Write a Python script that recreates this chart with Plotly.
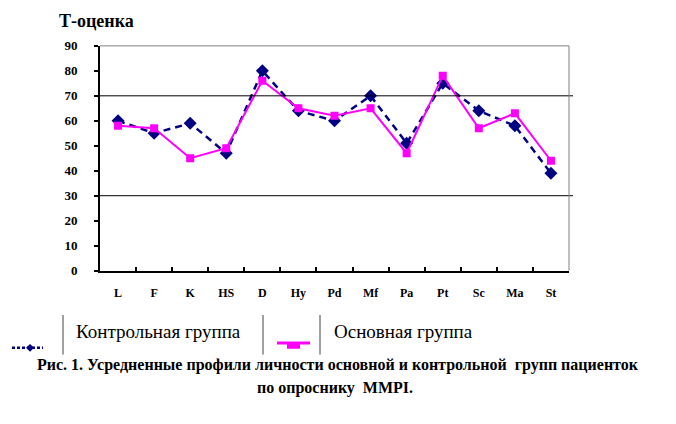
import plotly.graph_objects as go

categories = ["L", "F", "K", "HS", "D", "Hy", "Pd", "Mf", "Pa", "Pt", "Sc", "Ma", "St"]
control_values = [60, 55, 59, 47, 80, 64, 60, 70, 51, 75, 64, 58, 39]
main_values = [58, 57, 45, 49, 76, 65, 62, 65, 47, 78, 57, 63, 44]
y_ticks = [0, 10, 20, 30, 40, 50, 60, 70, 80, 90]
ref_lines = [70, 30]

W, H = 676, 424
OFF = 8  # page body margin offset of the figure in the window
PL, PR, PT, PB = 100, 569, 40, 273  # plot area in window pixels

def px(x):
    return (x - OFF) / W

def py(y):
    return 1 - (y - OFF) / H

SERIF = "Liberation Serif"
NAVY = "#000080"
MAGENTA = "#FF00FF"

fig = go.Figure()
fig.add_trace(go.Scatter(
    x=categories, y=control_values, mode="lines+markers",
    name="Контрольная группа",
    line=dict(color=NAVY, width=2.5, dash="7px,5px"),
    marker=dict(symbol="diamond", size=10, color=NAVY),
))
fig.add_trace(go.Scatter(
    x=categories, y=main_values, mode="lines+markers",
    name="Основная группа",
    line=dict(color=MAGENTA, width=2),
    marker=dict(symbol="square", size=8, color=MAGENTA),
))

shapes = []
for v in ref_lines:
    shapes.append(dict(type="line", xref="paper", yref="y",
                       x0=px(PL - 5), x1=px(PR + 4), y0=v, y1=v,
                       line=dict(color="black", width=1)))
shapes.append(dict(type="line", xref="paper", yref="paper", x0=px(PL), x1=px(PR),
                   y0=py(PT), y1=py(PT), line=dict(color="#808080", width=1)))
shapes.append(dict(type="line", xref="paper", yref="paper", x0=px(PR), x1=px(PR),
                   y0=py(PT), y1=py(PB), line=dict(color="#808080", width=1)))
for xs in (63, 263, 320):
    shapes.append(dict(type="line", xref="paper", yref="paper", x0=px(xs), x1=px(xs),
                       y0=py(319), y1=py(360), line=dict(color="#404040", width=1)))
shapes.append(dict(type="line", xref="paper", yref="paper", x0=px(12), x1=px(43),
                   y0=py(353), y1=py(353), line=dict(color=NAVY, width=2.5, dash="3px,2px")))
cx, cy, r = 30, 353, 4
shapes.append(dict(type="path", xref="paper", yref="paper",
                   path=f"M {px(cx)},{py(cy - r)} L {px(cx + r)},{py(cy)} L {px(cx)},{py(cy + r)} L {px(cx - r)},{py(cy)} Z",
                   fillcolor=NAVY, line=dict(color=NAVY, width=0)))
shapes.append(dict(type="line", xref="paper", yref="paper", x0=px(277), x1=px(310),
                   y0=py(348), y1=py(348), line=dict(color=MAGENTA, width=3)))
shapes.append(dict(type="rect", xref="paper", yref="paper", x0=px(287), x1=px(300),
                   y0=py(354), y1=py(348), fillcolor=MAGENTA, line=dict(width=0)))

annotations = [
    dict(text="<b>Т-оценка</b>", x=px(57), y=py(14), xref="paper", yref="paper",
         xanchor="left", yanchor="middle", showarrow=False,
         font=dict(family=SERIF, size=18)),
    dict(text="Контрольная группа", x=px(74), y=py(336), xref="paper", yref="paper",
         xanchor="left", yanchor="middle", showarrow=False,
         font=dict(family=SERIF, size=19)),
    dict(text="Основная группа", x=px(332), y=py(336), xref="paper", yref="paper",
         xanchor="left", yanchor="middle", showarrow=False,
         font=dict(family=SERIF, size=19)),
    dict(text="<b>Рис. 1. Усредненные профили личности основной и контрольной  групп пациенток</b>",
         x=px(338), y=py(371), xref="paper", yref="paper",
         xanchor="center", yanchor="middle", showarrow=False,
         font=dict(family=SERIF, size=16)),
    dict(text="<b>по опроснику  MMPI.</b>",
         x=px(335), y=py(395), xref="paper", yref="paper",
         xanchor="center", yanchor="middle", showarrow=False,
         font=dict(family=SERIF, size=16)),
]

fig.update_layout(
    width=W, height=H,
    margin=dict(l=0, r=0, t=0, b=0),
    font=dict(family=SERIF, color="black"),
    paper_bgcolor="white", plot_bgcolor="white",
    showlegend=False,
    shapes=shapes, annotations=annotations,
    xaxis=dict(
        domain=[px(PL), px(PR)],
        type="category", categoryorder="array", categoryarray=categories,
        tickson="boundaries", ticks="inside", ticklen=4, tickcolor="black", tickwidth=2,
        showline=True, linecolor="black", linewidth=2,
        showgrid=False, zeroline=False,
        tickfont=dict(family=SERIF, size=12),
        ticklabelstandoff=10,
        range=[-0.5, len(categories) - 0.5],
        tickvals=categories, ticktext=[f"<b>{c}</b>" for c in categories],
    ),
    yaxis=dict(
        domain=[py(PB), py(PT)],
        range=[0, 90], tickvals=y_ticks, ticktext=[f"<b>{v}</b>" for v in y_ticks],
        ticks="outside", ticklen=4, tickcolor="black", tickwidth=2,
        showline=True, linecolor="black", linewidth=2,
        showgrid=False, zeroline=False,
        tickfont=dict(family=SERIF, size=13),
        ticklabelstandoff=14,
    ),
)

fig.write_html("out.html")
